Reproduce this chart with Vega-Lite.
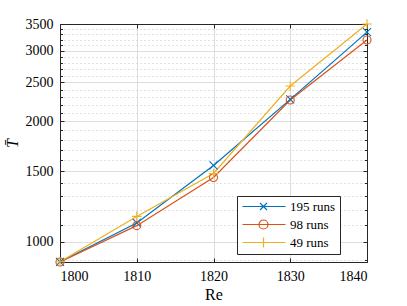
{
  "$schema": "https://vega.github.io/schema/vega-lite/v6.json",
  "width": 307,
  "height": 238,
  "autosize": {"type": "none"},
  "padding": {"left": 60, "top": 24, "right": 40, "bottom": 44},
  "background": "white",
  "config": {
    "view": {"stroke": "#262626", "strokeWidth": 1},
    "font": "Liberation Serif",
    "axis": {
      "labelFont": "Liberation Serif", "labelFontSize": 14, "labelColor": "#000",
      "domainColor": "#262626", "tickColor": "#262626",
      "gridColor": "#dedede", "gridOpacity": 1,
      "titleFont": "Liberation Serif", "titleFontWeight": "normal", "titleColor": "#000"
    },
    "legend": {
      "title": null, "orient": "none", "legendX": 177, "legendY": 172, "direction": "vertical",
      "padding": 4, "strokeColor": "#262626", "fillColor": "white",
      "labelFont": "Liberation Serif", "labelFontSize": 13, "labelColor": "#000",
      "symbolSize": 100, "symbolStrokeWidth": 1.2, "labelOffset": 36, "rowPadding": 3
    }
  },
  "data": {"values": [
    {"Re": 1800, "T": 891, "series": "195 runs"},
    {"Re": 1810, "T": 1114, "series": "195 runs"},
    {"Re": 1820, "T": 1551, "series": "195 runs"},
    {"Re": 1830, "T": 2268, "series": "195 runs"},
    {"Re": 1840, "T": 3340, "series": "195 runs"},
    {"Re": 1800, "T": 890, "series": "98 runs"},
    {"Re": 1810, "T": 1097, "series": "98 runs"},
    {"Re": 1820, "T": 1447, "series": "98 runs"},
    {"Re": 1830, "T": 2260, "series": "98 runs"},
    {"Re": 1840, "T": 3192, "series": "98 runs"},
    {"Re": 1800, "T": 891, "series": "49 runs"},
    {"Re": 1810, "T": 1157, "series": "49 runs"},
    {"Re": 1820, "T": 1481, "series": "49 runs"},
    {"Re": 1830, "T": 2450, "series": "49 runs"},
    {"Re": 1840, "T": 3500, "series": "49 runs"}
  ]},
  "layer": [
    {
      "mark": {"type": "point", "opacity": 0},
      "encoding": {
        "x": {"field": "Re", "type": "quantitative", "scale": {"domain": [1800, 1840], "nice": false, "zero": false}, "axis": null},
        "y": {"field": "T", "type": "quantitative", "scale": {"type": "log", "domain": [890, 3500], "nice": false, "zero": false},
          "axis": {"orient": "left", "values": [900, 1100, 1200, 1300, 1400, 1600, 1700, 1800, 1900, 2100, 2200, 2300, 2400, 2600, 2700, 2800, 2900, 3100, 3200, 3300, 3400],
            "labels": false, "domain": false, "ticks": true, "tickSize": -2.5, "title": null,
            "grid": true, "gridDash": [1, 3], "gridColor": "#c4c4c4"}}
      }
    },
    {
      "mark": {"type": "point", "opacity": 0},
      "encoding": {
        "x": {"field": "Re", "type": "quantitative", "axis": null},
        "y": {"field": "T", "type": "quantitative",
          "axis": {"orient": "right", "values": [900, 1100, 1200, 1300, 1400, 1600, 1700, 1800, 1900, 2100, 2200, 2300, 2400, 2600, 2700, 2800, 2900, 3100, 3200, 3300, 3400],
            "labels": false, "domain": false, "ticks": true, "tickSize": -2.5, "title": null, "grid": false}}
      }
    },
    {
      "mark": {"type": "line", "strokeWidth": 1.2},
      "encoding": {
        "x": {"field": "Re", "type": "quantitative",
          "axis": {"orient": "bottom", "values": [1800, 1810, 1820, 1830, 1840], "format": "d", "grid": true, "tickSize": -4, "labelPadding": 11, "title": "Re", "titleFontSize": 16, "titlePadding": 3}},
        "y": {"field": "T", "type": "quantitative",
          "axis": {"orient": "left", "values": [1000, 1500, 2000, 2500, 3000, 3500], "format": "d", "grid": true, "tickSize": -4, "labelPadding": 11, "title": "T̄", "titleFontSize": 16, "titleFontStyle": "italic", "titlePadding": 5}},
        "color": {"field": "series", "type": "nominal", "scale": {"domain": ["195 runs", "98 runs", "49 runs"], "range": ["#0072BD", "#D95319", "#EDB120"]},
          "legend": {
            "symbolType": "M-1,0H7.6",
            "encode": {"symbols": {"update": {"shape": {"signal": "datum.value === '195 runs' ? 'M-1,0H7.6M2.5,-0.7L3.9,0.7M2.5,0.7L3.9,-0.7' : datum.value === '98 runs' ? 'M-1,0H7.6M2.3,0A0.9,0.9 0 1,0 4.1,0A0.9,0.9 0 1,0 2.3,0' : 'M-1,0H7.6M2.2,0H4.2M3.2,-1V1'"}, "strokeWidth": {"value": 1.2}, "opacity": {"value": 1}}}}
          }}
      }
    },
    {
      "mark": {"type": "point", "filled": false, "size": 64, "strokeWidth": 1.1, "opacity": 1},
      "encoding": {
        "x": {"field": "Re", "type": "quantitative",
          "axis": {"orient": "top", "values": [1800, 1810, 1820, 1830, 1840], "labels": false, "grid": false, "tickSize": -4, "title": null}},
        "y": {"field": "T", "type": "quantitative",
          "axis": {"orient": "right", "values": [1000, 1500, 2000, 2500, 3000, 3500], "labels": false, "grid": false, "tickSize": -4, "title": null}},
        "shape": {"condition": [{"test": "datum.series === '195 runs'", "value": "M-1,-1L1,1M-1,1L1,-1"}, {"test": "datum.series === '98 runs'", "value": "circle"}], "value": "M-1.2,0H1.2M0,-1.2V1.2"},
        "color": {"field": "series", "type": "nominal",
          "legend": {
            "symbolType": "M-1,0H7.6",
            "encode": {"symbols": {"update": {"shape": {"signal": "datum.value === '195 runs' ? 'M-1,0H7.6M2.5,-0.7L3.9,0.7M2.5,0.7L3.9,-0.7' : datum.value === '98 runs' ? 'M-1,0H7.6M2.3,0A0.9,0.9 0 1,0 4.1,0A0.9,0.9 0 1,0 2.3,0' : 'M-1,0H7.6M2.2,0H4.2M3.2,-1V1'"}, "strokeWidth": {"value": 1.2}, "opacity": {"value": 1}}}}
          }}
      }
    }
  ],
  "resolve": {"axis": {"x": "independent", "y": "independent"}}
}
